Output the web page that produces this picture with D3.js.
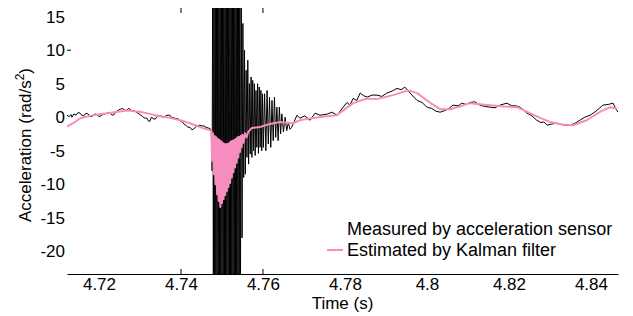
<!DOCTYPE html>
<html>
<head>
<meta charset="utf-8">
<script src="https://cdn.jsdelivr.net/npm/d3@7"></script>
<style>
  body { margin: 0; background: #fff; }
  text { font-family: "Liberation Sans", Arial, sans-serif; fill: #000; }
</style>
</head>
<body>
<div id="chart"></div>
<script>
  // measured by acceleration sensor: [time (s), value (rad/s^2)]
  var measured = [
    [4.7122, 0.3], [4.7127, 0.1], [4.7132, 0.4], [4.7134, 0.0], [4.7139, 0.5], [4.7144, 0.3],
    [4.7149, 0.7], [4.7154, 0.6], [4.7158, 0.3], [4.7163, 0.2], [4.7168, 0.6], [4.7173, 0.5],
    [4.7178, 0.1], [4.7185, 0.15], [4.7190, 0.5], [4.7195, 0.4], [4.7200, 0.1], [4.7205, 0.2],
    [4.7210, 0.5], [4.7217, 0.5], [4.7222, 0.7], [4.7227, 0.6], [4.7232, 0.3], [4.7237, 0.4],
    [4.7242, 0.8], [4.7246, 1.0], [4.7252, 1.2], [4.7258, 1.3], [4.7263, 1.0], [4.7268, 1.1],
    [4.7273, 1.3], [4.7276, 1.2], [4.7281, 0.9], [4.7285, 1.0], [4.7290, 0.8], [4.7295, 0.6],
    [4.7300, 0.4], [4.7305, 0.2], [4.7310, -0.1], [4.7317, -0.15], [4.7321, -0.6], [4.7324, -0.6],
    [4.7328, 0.0], [4.7332, -0.2], [4.7337, -0.3], [4.7342, 0.1], [4.7346, 0.2], [4.7351, 0.2],
    [4.7356, 0.0], [4.7361, 0.1], [4.7366, 0.3], [4.7373, 0.3], [4.7378, -0.1], [4.7383, -0.1],
    [4.7388, -0.2], [4.7393, -0.2], [4.7398, -0.6], [4.7402, -0.6], [4.7407, -1.0], [4.7412, -1.2],
    [4.7417, -1.5], [4.7422, -1.5], [4.7427, -1.9], [4.7432, -1.7], [4.7437, -1.4], [4.7441, -1.3],
    [4.7446, -1.2], [4.7451, -1.3], [4.7456, -1.3], [4.7461, -1.5], [4.7466, -1.6], [4.7471, -1.7],
    [4.7474, -2.0],
    // impact: sensor saturates
    [4.74760, -8], [4.74775, 25], [4.74790, -30], [4.74805, 30], [4.74820, -30], [4.74835, 30],
    [4.74850, -30], [4.74865, 22], [4.74880, -30], [4.74895, 30], [4.74910, -30], [4.74925, 30],
    [4.74940, -30], [4.74955, 30], [4.74970, -26], [4.74985, 30], [4.75000, -30], [4.75015, 30],
    [4.75030, -30], [4.75045, 30], [4.75060, -30], [4.75075, 30], [4.75090, -30], [4.75105, 30],
    [4.75120, -30], [4.75135, 30], [4.75150, -30], [4.75165, 30], [4.75180, -30], [4.75195, 30],
    [4.75210, -30], [4.75225, 30], [4.75240, -30], [4.75255, 30], [4.75270, -30], [4.75285, 30],
    [4.75300, -30], [4.75315, 30], [4.75330, -30], [4.75345, 30], [4.75360, -30], [4.75375, 30],
    [4.75390, -30], [4.75405, 30], [4.75420, -30], [4.75435, 30], [4.75450, -30],
    [4.7547, 22], [4.7549, -18], [4.7551, 14], [4.7553, -9], [4.7555, 10], [4.7557, -8.5],
    [4.7559, 7], [4.7561, -6], [4.7563, 8.5], [4.7565, -7], [4.7567, 5], [4.7569, -5.5],
    [4.7571, 6], [4.7573, -6], [4.7575, 5.5], [4.7577, -5], [4.7579, 5], [4.7581, -5.7],
    [4.7583, 4], [4.7585, -4.5], [4.7587, 5], [4.7589, -5.4], [4.7591, 4.5], [4.7593, -4.5],
    [4.7595, 4], [4.7597, -5], [4.7599, 3.5], [4.7601, -4.5], [4.7604, 3.5], [4.7607, -5],
    [4.7610, 4], [4.7613, -4], [4.7616, 3], [4.7619, -4.5], [4.7622, 2.5], [4.7625, -3.5],
    [4.7628, 3], [4.7631, -3], [4.7634, 1.5], [4.7637, -3.5], [4.7640, 1.5], [4.7643, -2.5],
    [4.7646, 0.5], [4.7650, -2.2], [4.7654, 0.0], [4.7658, -2.0], [4.7662, -0.8], [4.7666, -1.8],
    [4.7670, -1.5],
    [4.7683, 0.3], [4.7690, -0.15], [4.7702, 0.2], [4.7715, -0.45], [4.7727, 0.6], [4.7739, 0.3],
    [4.7756, 0.45], [4.7768, 0.75], [4.7781, 0.3], [4.7793, 1.3], [4.7805, 2.2], [4.7812, 1.8],
    [4.7820, 2.8], [4.7829, 2.5], [4.7837, 3.6], [4.7846, 3.2], [4.7854, 3.0], [4.7866, 3.3],
    [4.7878, 3.3], [4.7890, 3.1], [4.7902, 3.6], [4.7915, 3.9], [4.7927, 4.3], [4.7937, 4.1],
    [4.7946, 4.5], [4.7959, 3.6], [4.7968, 3.0], [4.7976, 2.5], [4.7988, 2.2], [4.8000, 1.5],
    [4.8012, 1.3], [4.8022, 0.9], [4.8032, 0.75], [4.8044, 1.0], [4.8054, 1.3], [4.8063, 1.8],
    [4.8076, 1.7], [4.8085, 2.1], [4.8095, 1.9], [4.8105, 2.2], [4.8117, 2.3], [4.8129, 1.8],
    [4.8142, 1.6], [4.8154, 1.5], [4.8166, 1.4], [4.8178, 1.8], [4.8195, 2.1], [4.8207, 1.7],
    [4.8217, 1.7], [4.8227, 1.5], [4.8237, 1.0], [4.8244, 0.6], [4.8254, 0.3], [4.8263, -0.2],
    [4.8268, -0.45], [4.8278, -0.8], [4.8285, -0.7], [4.8293, -1.2], [4.8305, -1.0], [4.8317, -0.9],
    [4.8329, -1.1], [4.8339, -1.2], [4.8349, -1.2], [4.8361, -0.9], [4.8373, -0.45], [4.8385, 0.0],
    [4.8398, 0.3], [4.8410, 0.8], [4.8420, 1.3], [4.8429, 1.8], [4.8442, 1.9], [4.8454, 2.1],
    [4.8461, 1.2], [4.8466, 0.75]
  ];

  // estimated by Kalman filter: [time (s), value (rad/s^2)]
  var estimated = [
    [4.7122, -1.4], [4.7137, -0.9], [4.7154, -0.15], [4.7178, 0.2], [4.7202, 0.45], [4.7234, 0.7],
    [4.7268, 1.0], [4.7300, 0.8], [4.7324, 0.5], [4.7349, 0.15], [4.7373, -0.1], [4.7398, -0.45],
    [4.7422, -0.9], [4.7446, -1.45], [4.7463, -1.8], [4.7474, -2.0],
    [4.7476, -6.5], [4.7478, -2.4], [4.7480, -8.5], [4.7482, -2.8], [4.7484, -10.0], [4.7486, -3.0],
    [4.7488, -11.5], [4.7490, -3.2], [4.7492, -12.5], [4.7494, -3.4], [4.7496, -13.4], [4.7498, -3.6],
    [4.7500, -12.8], [4.7502, -3.8], [4.7504, -12.2], [4.7506, -4.0], [4.7508, -11.6], [4.7510, -4.0],
    [4.7512, -11.0], [4.7514, -4.0], [4.7516, -10.4], [4.7518, -3.8], [4.7520, -9.8], [4.7522, -3.6],
    [4.7524, -9.0], [4.7526, -3.5], [4.7528, -8.2], [4.7530, -3.4], [4.7532, -7.5], [4.7534, -3.2],
    [4.7536, -6.8], [4.7538, -3.0], [4.7540, -6.0], [4.7542, -2.9], [4.7544, -5.2], [4.7546, -2.8],
    [4.7548, -4.5], [4.7550, -2.6], [4.7553, -3.8], [4.7556, -2.4], [4.7560, -3.0], [4.7564, -2.2],
    [4.7573, -1.6], [4.7593, -1.45], [4.7617, -1.0], [4.7642, -0.7], [4.7673, -0.9], [4.7690, -0.45],
    [4.7722, -0.1], [4.7756, 0.15], [4.7780, 0.3], [4.7800, 1.2], [4.7820, 2.1], [4.7854, 2.8],
    [4.7878, 2.7], [4.7917, 3.3], [4.7954, 4.0], [4.7976, 3.6], [4.8007, 2.2], [4.8032, 1.2],
    [4.8056, 1.2], [4.8080, 1.6], [4.8105, 2.1], [4.8154, 1.8], [4.8190, 1.6], [4.8220, 1.5],
    [4.8251, 0.6], [4.8276, -0.1], [4.8300, -0.7], [4.8329, -1.1], [4.8356, -1.2], [4.8390, -0.45],
    [4.8422, 0.8], [4.8446, 1.5], [4.8463, 1.3]
  ];

  var xTicks = [4.72, 4.74, 4.76, 4.78, 4.8, 4.82, 4.84];
  var xTickMarks = [4.74, 4.76];
  var yTicks = [15, 10, 5, 0, -5, -10, -15, -20];
  var yTickMarks = [10];
  var legendLabels = ['Measured by acceleration sensor', 'Estimated by Kalman filter'];

  var W = 633, H = 316;
  var mLeft = 67, mRight = 618, mTop = 8, mBottom = 274;
  var pink = '#f68dbf';
  var font = '"Liberation Sans", Arial, sans-serif';

  var svg = d3.select('#chart').append('svg')
      .attr('width', W)
      .attr('height', H);

  var x = d3.scaleLinear().domain([4.7122, 4.8466]).range([mLeft, mRight]);
  var y = d3.scaleLinear().domain([-23.4, 16.3]).range([mBottom, mTop]);

  svg.append('clipPath').attr('id', 'plot')
    .append('rect')
      .attr('x', mLeft).attr('y', mTop)
      .attr('width', mRight - mLeft).attr('height', mBottom - mTop);

  var line = d3.line()
      .x(function(d) { return x(d[0]); })
      .y(function(d) { return y(d[1]); });

  var g = svg.append('g').attr('clip-path', 'url(#plot)');

  g.append('path')
      .datum(measured)
      .attr('d', line)
      .attr('fill', 'none')
      .attr('stroke', '#000')
      .attr('stroke-width', 1);

  g.append('path')
      .datum(estimated)
      .attr('d', line)
      .attr('fill', 'none')
      .attr('stroke', pink)
      .attr('stroke-width', 2)
      .attr('stroke-linejoin', 'round');

  // x axis
  var xAxis = svg.append('g').attr('transform', 'translate(0,' + mBottom + ')')
      .call(d3.axisBottom(x).tickValues(xTicks).tickSize(0).tickPadding(4)
        .tickFormat(function(d) { return String(+d.toFixed(2)); }));
  xAxis.select('.domain').attr('stroke', '#000').attr('stroke-width', 1.2);
  xAxis.selectAll('text').attr('font-size', 17).style('font-family', font);

  svg.selectAll('.xtick').data(xTickMarks)
    .enter().append('line')
      .attr('x1', function(d) { return x(d); })
      .attr('x2', function(d) { return x(d); })
      .attr('y1', mBottom).attr('y2', mBottom - 5)
      .attr('stroke', '#000');
  svg.selectAll('.xtick-top').data(xTickMarks)
    .enter().append('line')
      .attr('x1', function(d) { return x(d); })
      .attr('x2', function(d) { return x(d); })
      .attr('y1', mTop).attr('y2', mTop + 5)
      .attr('stroke', '#000');

  // y axis (labels only, no line)
  var yAxis = svg.append('g').attr('transform', 'translate(' + mLeft + ',0)')
      .call(d3.axisLeft(y).tickValues(yTicks).tickSize(0).tickPadding(2)
        .tickFormat(function(d) { return String(d); }));
  yAxis.select('.domain').remove();
  yAxis.selectAll('text').attr('font-size', 17).style('font-family', font);

  svg.selectAll('.ytick').data(yTickMarks)
    .enter().append('line')
      .attr('x1', mLeft).attr('x2', mLeft + 4)
      .attr('y1', function(d) { return y(d); })
      .attr('y2', function(d) { return y(d); })
      .attr('stroke', '#000');

  // axis titles
  svg.append('text')
      .attr('x', (mLeft + mRight) / 2)
      .attr('y', 309)
      .attr('text-anchor', 'middle')
      .attr('font-size', 17)
      .text('Time (s)');

  var ylab = svg.append('text')
      .attr('transform', 'translate(31,145) rotate(-90)')
      .attr('text-anchor', 'middle')
      .attr('font-size', 17);
  ylab.append('tspan').text('Acceleration (rad/s');
  ylab.append('tspan').attr('dy', -7).attr('font-size', 12).text('2');
  ylab.append('tspan').attr('dy', 7).text(')');

  // legend
  var legend = svg.append('g');
  legend.selectAll('text').data(legendLabels)
    .enter().append('text')
      .attr('x', 347)
      .attr('y', function(d, i) { return 235 + i * 21; })
      .attr('font-size', 18)
      .text(function(d) { return d; });
  legend.append('line')
      .attr('x1', 327).attr('x2', 343)
      .attr('y1', 250).attr('y2', 250)
      .attr('stroke', pink)
      .attr('stroke-width', 2);
</script>
</body>
</html>
